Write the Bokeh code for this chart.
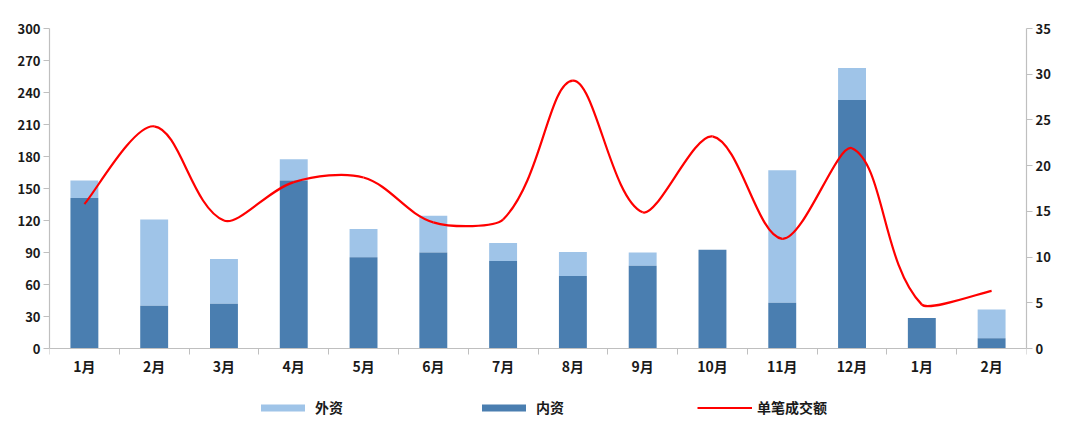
import math
from bokeh.plotting import figure
from bokeh.models import (LinearAxis, Range1d, FixedTicker, Legend, LegendItem,
                          ColumnDataSource)
from bokeh.embed import file_html
from bokeh.resources import INLINE

# ---- data ----
months = ["1月", "2月", "3月", "4月", "5月", "6月", "7月", "8月", "9月", "10月",
          "11月", "12月", "1月", "2月"]
domestic = [141, 40, 42, 157.5, 85.5, 90, 82, 68, 77.5, 92.5, 43, 233, 28.5, 9.5]
foreign = [16.5, 81, 42, 20, 26.5, 34.5, 17, 22.5, 12.5, 0, 124, 30, 0, 27]
avg_deal = [15.8, 24.3, 14.0, 18.2, 18.7, 13.8, 14.1, 29.3, 14.9, 23.2, 12.0, 21.9, 4.8, 6.3]
left_ticks = [0, 30, 60, 90, 120, 150, 180, 210, 240, 270, 300]
right_ticks = [0, 5, 10, 15, 20, 25, 30, 35]

FONT = "Noto Sans CJK SC"
TXT = "#1a1a1a"
AX = "#bfbfbf"
DARK = "#4a7eb0"
LIGHT = "#9fc4e8"

FW = 977
PX_PER_UNIT = 320 / 300.0          # left axis: 300 units over 320 px
BELOW = 80                         # px of frame kept under the zero line
FH = 320 + BELOW
L_MAX, R_MAX = 300, 35
l_min = -BELOW / PX_PER_UNIT
r_min = l_min * R_MAX / L_MAX

n = len(months)
xs = list(range(n))
top_total = [d + f for d, f in zip(domestic, foreign)]

p = figure(output_backend="svg", toolbar_location=None,
           x_range=Range1d(-0.5, n - 0.5), y_range=Range1d(l_min, L_MAX),
           frame_width=FW, frame_height=FH,
           min_border_left=49, min_border_right=50, min_border_top=28,
           min_border_bottom=2, outline_line_color=None)
p.grid.visible = False
p.background_fill_color = "white"
p.border_fill_color = "white"

p.extra_y_ranges = {"right": Range1d(r_min, R_MAX)}

# bars
src = ColumnDataSource(dict(x=xs, dom=domestic, top=top_total))
r_for = p.vbar(x="x", bottom="dom", top="top", width=0.4, source=src,
               fill_color=LIGHT, line_color=None)
r_dom = p.vbar(x="x", bottom=0, top="dom", width=0.4, source=src,
               fill_color=DARK, line_color=None)

# smoothed line: chord-length-weighted Catmull-Rom -> cubic Bezier segments
sx = FW / n
sy = 320 / float(R_MAX)

def dist(i, j):
    return math.hypot((j - i) * sx, (avg_deal[j] - avg_deal[i]) * sy)

def tangent(i):
    a = max(i - 1, 0)
    b = min(i + 1, n - 1)
    return (b - a), (avg_deal[b] - avg_deal[a])

x0, y0, x1, y1, cx0, cy0, cx1, cy1 = [], [], [], [], [], [], [], []
for i in range(n - 1):
    j = i + 1
    tx, ty = tangent(i)
    if i == 0:
        k = 1.0 / 6.0
    else:
        din, dout = dist(i - 1, i) ** 2, dist(i, j) ** 2
        k = (1.0 / 3.0) * dout / (din + dout)
    c0x, c0y = i + tx * k, avg_deal[i] + ty * k
    tx, ty = tangent(j)
    if j == n - 1:
        k = 1.0 / 6.0
    else:
        din, dout = dist(i, j) ** 2, dist(j, j + 1) ** 2
        k = (1.0 / 3.0) * din / (din + dout)
    c1x, c1y = j - tx * k, avg_deal[j] - ty * k
    x0.append(i); y0.append(avg_deal[i]); x1.append(j); y1.append(avg_deal[j])
    cx0.append(c0x); cy0.append(c0y); cx1.append(c1x); cy1.append(c1y)

bsrc = ColumnDataSource(dict(x0=x0, y0=y0, x1=x1, y1=y1, cx0=cx0, cy0=cy0, cx1=cx1, cy1=cy1))
r_line = p.bezier(x0="x0", y0="y0", x1="x1", y1="y1", cx0="cx0", cy0="cy0",
                  cx1="cx1", cy1="cy1", source=bsrc, line_color="#ff0000",
                  line_width=2.2, y_range_name="right")

# axes
def style_axis(ax):
    ax.axis_line_color = AX
    ax.axis_line_width = 1.2
    ax.major_tick_line_color = AX
    ax.minor_tick_line_color = AX
    ax.major_label_text_font = FONT
    ax.major_label_text_font_style = "bold"
    ax.major_label_text_font_size = "13px"
    ax.major_label_text_color = TXT

xa = p.xaxis[0]
style_axis(xa)
xa.fixed_location = 0
xa.ticker = FixedTicker(ticks=xs, minor_ticks=[i - 0.5 for i in range(n + 1)])
xa.major_label_overrides = {i: m for i, m in enumerate(months)}
xa.major_tick_out = 0
xa.major_tick_in = 0
xa.minor_tick_out = 6
xa.minor_tick_in = 0
xa.major_label_standoff = 1
xa.major_label_text_font_size = "14px"

ya = p.yaxis[0]
style_axis(ya)
ya.bounds = (0, L_MAX)
ya.ticker = FixedTicker(ticks=left_ticks)
ya.major_tick_out = 6
ya.major_tick_in = 0
ya.minor_tick_out = 0
ya.minor_tick_in = 0
ya.major_label_standoff = 3

ra = LinearAxis(y_range_name="right", ticker=FixedTicker(ticks=right_ticks),
                bounds=(0, R_MAX))
style_axis(ra)
ra.major_tick_out = 6
ra.major_tick_in = 0
ra.minor_tick_out = 0
ra.minor_tick_in = 0
ra.major_label_standoff = 3
p.add_layout(ra, "right")

legend = Legend(items=[LegendItem(label="外资", renderers=[r_for]),
                       LegendItem(label="内资", renderers=[r_dom]),
                       LegendItem(label="单笔成交额", renderers=[r_line])],
                orientation="horizontal", location=(206, 11),
                glyph_width=55, glyph_height=9, label_standoff=5, spacing=133,
                label_text_font=FONT, label_text_font_style="bold",
                label_text_font_size="14px", label_text_color=TXT,
                border_line_color=None, background_fill_alpha=0,
                padding=4, margin=0)
p.add_layout(legend, "center")

open("out.html", "w").write(file_html(p, INLINE))
